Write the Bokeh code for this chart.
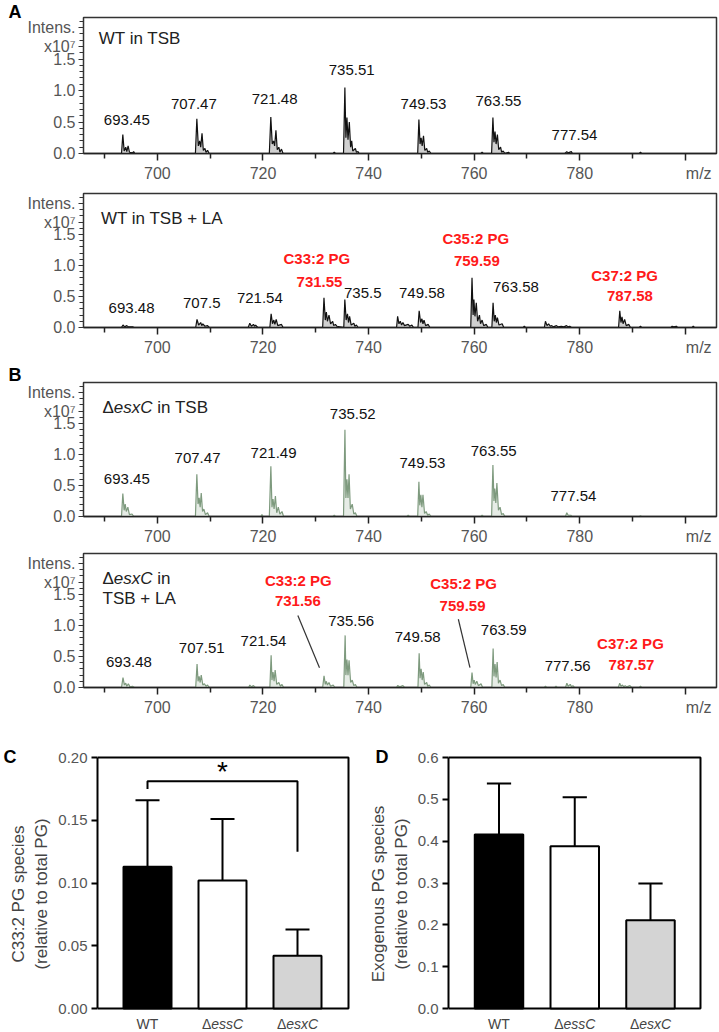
from bokeh.plotting import figure
from bokeh.layouts import column, row
from bokeh.models import Label, FixedTicker, Range1d, NumeralTickFormatter, Title
from bokeh.embed import file_html
from bokeh.resources import INLINE

FONT = "Liberation Sans"

# ---------------- Spectra (intensity in units of 1e7) ----------------
MZ_MIN, MZ_MAX = 686.0, 805.9
I_MAX = 2.16

trace_wt_tsb = [
    (686.0, 0), (693.2, 0), (693.45, 0.30), (693.7, 0.04), (694.0, 0.10), (694.2, 0.03), (694.45, 0.12), (694.7, 0.02),
    (695.3, 0.01), (695.5, 0.03), (695.7, 0),
    (707.2, 0), (707.47, 0.55), (707.75, 0.12), (708.0, 0.20), (708.2, 0.10), (708.45, 0.32), (708.7, 0.05), (709.0, 0.08),
    (709.2, 0.02), (709.5, 0.05), (709.8, 0),
    (721.2, 0), (721.48, 0.58), (721.75, 0.15), (722.0, 0.20), (722.2, 0.12), (722.45, 0.37), (722.7, 0.06), (723.0, 0.10),
    (723.2, 0.02), (723.5, 0.07), (723.8, 0),
    (733.3, 0), (733.5, 0.02), (733.7, 0),
    (735.25, 0), (735.51, 1.05), (735.7, 0.25), (735.9, 0.57), (736.1, 0.22), (736.35, 0.50), (736.6, 0.10), (736.8, 0.20),
    (737.0, 0.04), (737.5, 0.08), (737.7, 0.02), (738.0, 0.03), (738.2, 0),
    (749.3, 0), (749.53, 0.54), (749.75, 0.15), (749.95, 0.25), (750.15, 0.12), (750.4, 0.28), (750.65, 0.05), (751.0, 0.08),
    (751.2, 0.02), (751.5, 0.04), (751.8, 0),
    (761.3, 0), (761.5, 0.02), (761.7, 0),
    (763.3, 0), (763.55, 0.57), (763.75, 0.18), (763.95, 0.35), (764.15, 0.15), (764.4, 0.30), (764.65, 0.06), (765.0, 0.10),
    (765.2, 0.02), (765.5, 0.04), (765.8, 0), (766.5, 0.02), (766.7, 0),
    (777.2, 0), (777.54, 0.03), (777.8, 0.01), (778.4, 0.03), (778.6, 0),
    (791.3, 0), (791.5, 0.02), (791.7, 0), (805.9, 0),
]

trace_wt_la = [
    (686.0, 0), (693.2, 0), (693.48, 0.04), (693.8, 0.01), (694.2, 0.03), (694.5, 0.01), (695.3, 0.01), (695.6, 0),
    (707.25, 0), (707.5, 0.13), (707.8, 0.04), (708.2, 0.08), (708.4, 0.03), (708.6, 0.06), (709.0, 0.02), (709.5, 0.03), (709.8, 0),
    (717.2, 0), (717.5, 0.07), (717.8, 0.02), (718.2, 0.05), (718.4, 0.02), (718.6, 0.04), (719.0, 0),
    (721.3, 0), (721.54, 0.22), (721.8, 0.06), (722.05, 0.12), (722.25, 0.05), (722.5, 0.13), (722.8, 0.03), (723.5, 0.05), (723.8, 0),
    (731.3, 0), (731.55, 0.48), (731.8, 0.12), (732.0, 0.25), (732.2, 0.10), (732.5, 0.20), (732.8, 0.06), (733.2, 0.10),
    (733.4, 0.03), (733.7, 0.05), (734.0, 0.02),
    (735.3, 0), (735.5, 0.45), (735.75, 0.12), (736.0, 0.22), (736.2, 0.08), (736.4, 0.18), (736.7, 0.04), (737.2, 0.07),
    (737.4, 0.02), (737.7, 0.04), (738.0, 0),
    (745.3, 0), (745.5, 0.18), (745.75, 0.06), (746.0, 0.10), (746.25, 0.04), (746.5, 0.08), (746.8, 0.03), (747.5, 0.05),
    (747.8, 0.02), (748.2, 0.04), (748.5, 0),
    (749.35, 0), (749.58, 0.27), (749.85, 0.08), (750.1, 0.14), (750.3, 0.06), (750.5, 0.12), (750.8, 0.03), (751.3, 0.05), (751.6, 0),
    (759.35, 0), (759.59, 0.80), (759.8, 0.20), (759.95, 0.45), (760.15, 0.18), (760.4, 0.40), (760.65, 0.10), (761.0, 0.20),
    (761.2, 0.06), (761.5, 0.12), (761.8, 0.03), (762.3, 0.05), (762.6, 0),
    (763.35, 0), (763.58, 0.40), (763.8, 0.10), (764.0, 0.20), (764.2, 0.08), (764.4, 0.16), (764.7, 0.04), (765.3, 0.06), (765.6, 0),
    (769.3, 0), (769.5, 0.02), (769.7, 0),
    (773.3, 0), (773.5, 0.10), (773.8, 0.03), (774.1, 0.06), (774.4, 0.02), (774.7, 0.03), (775.0, 0.01), (775.6, 0.03),
    (775.9, 0.01), (776.5, 0.02), (777.0, 0.01), (777.5, 0.03), (777.8, 0.01), (778.1, 0.02), (778.4, 0),
    (787.35, 0), (787.58, 0.27), (787.8, 0.08), (788.0, 0.17), (788.2, 0.06), (788.5, 0.13), (788.8, 0.03), (789.3, 0.05), (789.6, 0),
    (791.3, 0), (791.5, 0.02), (791.7, 0),
    (797.3, 0), (797.5, 0.02), (797.8, 0.01), (798.3, 0.02), (798.5, 0),
    (801.3, 0), (801.5, 0.02), (801.7, 0), (805.9, 0),
]

trace_esxc_tsb = [
    (686.0, 0), (693.2, 0), (693.45, 0.37), (693.7, 0.10), (693.9, 0.20), (694.1, 0.08), (694.4, 0.15), (694.7, 0.03), (695.2, 0.04), (695.5, 0),
    (707.2, 0), (707.47, 0.68), (707.7, 0.20), (707.9, 0.30), (708.1, 0.15), (708.3, 0.38), (708.55, 0.08), (708.8, 0.12),
    (709.1, 0.03), (709.5, 0.06), (709.8, 0),
    (719.6, 0), (719.8, 0.03), (720.0, 0),
    (721.2, 0), (721.49, 0.81), (721.7, 0.15), (721.9, 0.28), (722.1, 0.12), (722.35, 0.33), (722.6, 0.06), (722.9, 0.15),
    (723.2, 0.04), (723.6, 0.08), (723.9, 0),
    (733.3, 0), (733.5, 0.02), (733.7, 0),
    (735.25, 0), (735.52, 1.40), (735.7, 0.30), (735.9, 0.60), (736.1, 0.30), (736.3, 0.68), (736.55, 0.12), (736.9, 0.20),
    (737.2, 0.04), (737.5, 0.06), (737.8, 0),
    (747.3, 0), (747.5, 0.02), (747.7, 0),
    (749.3, 0), (749.53, 0.56), (749.7, 0.18), (749.9, 0.35), (750.1, 0.15), (750.3, 0.35), (750.6, 0.05), (750.9, 0.08),
    (751.2, 0.02), (751.5, 0.04), (751.8, 0),
    (761.3, 0), (761.5, 0.02), (761.7, 0),
    (763.3, 0), (763.55, 0.83), (763.75, 0.25), (763.9, 0.45), (764.1, 0.22), (764.3, 0.54), (764.6, 0.10), (764.9, 0.15),
    (765.2, 0.03), (765.5, 0.05), (765.8, 0),
    (777.3, 0), (777.54, 0.06), (777.8, 0.02), (778.3, 0.02), (778.5, 0),
    (791.3, 0), (791.5, 0.01), (791.7, 0), (805.9, 0),
]

trace_esxc_la = [
    (686.0, 0), (693.2, 0), (693.48, 0.16), (693.75, 0.04), (694.0, 0.07), (694.2, 0.02), (694.5, 0.06), (694.8, 0.01), (695.3, 0.02), (695.6, 0),
    (707.25, 0), (707.51, 0.38), (707.7, 0.10), (707.9, 0.18), (708.1, 0.08), (708.3, 0.20), (708.6, 0.04), (708.9, 0.06),
    (709.2, 0.02), (709.5, 0.04), (709.8, 0),
    (717.3, 0), (717.5, 0.04), (717.8, 0.01), (718.2, 0.03), (718.5, 0),
    (721.3, 0), (721.54, 0.52), (721.7, 0.12), (721.9, 0.25), (722.1, 0.10), (722.3, 0.28), (722.6, 0.05), (723.0, 0.08),
    (723.3, 0.02), (723.6, 0.05), (723.9, 0),
    (731.3, 0), (731.56, 0.19), (731.8, 0.05), (732.0, 0.10), (732.2, 0.04), (732.5, 0.08), (732.8, 0.02), (733.3, 0.04), (733.6, 0),
    (735.3, 0), (735.56, 0.84), (735.7, 0.20), (735.9, 0.45), (736.1, 0.20), (736.3, 0.44), (736.6, 0.08), (736.9, 0.12),
    (737.2, 0.03), (737.5, 0.05), (737.8, 0),
    (745.3, 0), (745.5, 0.03), (745.9, 0.01), (746.5, 0.03), (746.8, 0),
    (749.35, 0), (749.58, 0.55), (749.75, 0.15), (749.95, 0.30), (750.15, 0.12), (750.35, 0.25), (750.6, 0.05), (751.0, 0.08),
    (751.2, 0.02), (751.5, 0.04), (751.8, 0),
    (759.35, 0), (759.59, 0.24), (759.8, 0.06), (760.0, 0.12), (760.2, 0.05), (760.5, 0.10), (760.8, 0.03), (761.3, 0.06), (761.6, 0),
    (763.35, 0), (763.59, 0.63), (763.75, 0.18), (763.95, 0.38), (764.15, 0.16), (764.35, 0.41), (764.6, 0.07), (764.9, 0.12),
    (765.2, 0.03), (765.5, 0.05), (765.8, 0),
    (773.3, 0), (773.5, 0.02), (773.7, 0), (775.3, 0), (775.5, 0.02), (775.7, 0),
    (777.3, 0), (777.56, 0.07), (777.8, 0.02), (778.2, 0.05), (778.45, 0.01), (778.7, 0.03), (779.0, 0),
    (787.3, 0), (787.57, 0.07), (787.8, 0.02), (788.1, 0.04), (788.35, 0.01), (788.6, 0.03), (788.9, 0.01), (789.5, 0.03), (789.8, 0),
    (791.3, 0), (791.5, 0.02), (791.7, 0), (805.9, 0),
]

# peak annotations (text) and where they are written (m/z, intensity)
p1_labels = ["693.45", "707.47", "721.48", "735.51", "749.53", "763.55", "777.54"]
p1_lab_x = [694.2, 706.9, 722.2, 736.8, 750.4, 764.6, 779.0]
p1_lab_y = [0.54, 0.78, 0.87, 1.32, 0.78, 0.83, 0.29]

p2_labels = ["693.48", "707.5", "721.54", "735.5", "749.58", "763.58"]
p2_lab_x = [695.1, 708.4, 719.4, 738.9, 750.1, 767.9]
p2_lab_y = [0.32, 0.40, 0.47, 0.55, 0.56, 0.65]
p2_species = ["C33:2 PG", "C35:2 PG", "C37:2 PG"]
p2_species_x = [730.2, 760.3, 788.5]
p2_species_y = [1.11, 1.44, 0.84]
p2_species_mz = ["731.55", "759.59", "787.58"]
p2_species_mz_x = [730.7, 760.5, 789.5]
p2_species_mz_y = [0.74, 1.08, 0.50]

p3_labels = ["693.45", "707.47", "721.49", "735.52", "749.53", "763.55", "777.54"]
p3_lab_x = [694.2, 707.6, 722.0, 737.0, 750.2, 763.7, 778.8]
p3_lab_y = [0.60, 0.95, 1.03, 1.65, 0.86, 1.05, 0.33]

p4_labels = ["693.48", "707.51", "721.54", "735.56", "749.58", "763.59", "777.56"]
p4_lab_x = [694.6, 708.4, 720.1, 736.7, 749.3, 765.6, 777.7]
p4_lab_y = [0.41, 0.63, 0.75, 1.08, 0.81, 0.92, 0.35]
p4_species = ["C33:2 PG", "C35:2 PG", "C37:2 PG"]
p4_species_x = [726.7, 758.0, 789.6]
p4_species_y = [1.73, 1.67, 0.71]
p4_species_mz = ["731.56", "759.59", "787.57"]
p4_species_mz_x = [726.6, 757.8, 789.8]
p4_species_mz_y = [1.40, 1.32, 0.37]
p4_leader_x0 = [726.6, 757.0]
p4_leader_y0 = [1.16, 1.10]
p4_leader_x1 = [730.7, 759.2]
p4_leader_y1 = [0.32, 0.32]

# ---------------- Bar charts ----------------
groups = ["WT", "essC", "esxC"]
group_pos = [1, 2, 3]
bar_colors = ["black", "white", "#d4d4d4"]
c33_mean = [0.113, 0.102, 0.042]
c33_err = [0.053, 0.049, 0.021]
exo_mean = [0.416, 0.388, 0.211]
exo_err = [0.122, 0.117, 0.088]

RED = "#ff1a1a"
GREEN_LINE = "#7e9a7e"
NBSP = "\u00a0"


def add_label(p, x, y, text, size=15, color="#111111", style="normal", align="center",
              baseline="middle", xo=0, yo=0):
    p.add_layout(Label(x=x, y=y, text=text, x_offset=xo, y_offset=yo, text_font=FONT,
                       text_font_size=f"{size}px", text_color=color, text_font_style=style,
                       text_align=align, text_baseline=baseline))


def panel_letter(p, letter, offset, standoff):
    p.add_layout(Title(text=letter, align="left", offset=offset, standoff=standoff, text_font=FONT,
                       text_font_size="18px", text_font_style="bold", text_color="black"), "above")


def spectrum(trace, line_color, fill_color, height, top, bottom):
    mz = [t[0] for t in trace]
    inten = [t[1] for t in trace]
    p = figure(width=718, height=height, x_range=Range1d(MZ_MIN, MZ_MAX), y_range=Range1d(0, I_MAX),
               output_backend="svg", toolbar_location=None,
               min_border_left=83, min_border_right=2, min_border_top=top, min_border_bottom=bottom)
    p.varea(x=mz, y1=0, y2=inten, fill_color=fill_color)
    p.line(x=mz, y=inten, line_color=line_color, line_width=1.2)
    p.xgrid.visible = False
    p.ygrid.visible = False
    p.outline_line_color = "#333333"
    p.outline_line_width = 1.5
    xa = p.xaxis[0]
    xa.ticker = FixedTicker(ticks=[700, 720, 740, 760, 780, 800], minor_ticks=[690, 710, 730, 750, 770, 790])
    xa.major_label_overrides = {800: NBSP * 6 + "m/z"}
    xa.major_tick_out = 7
    xa.major_tick_in = 0
    xa.minor_tick_out = 5
    xa.minor_tick_in = 0
    xa.axis_line_width = 1.5
    xa.axis_line_color = "#222222"
    xa.major_tick_line_color = "#222222"
    xa.minor_tick_line_color = "#222222"
    xa.major_tick_line_width = 1.5
    xa.minor_tick_line_width = 1.5
    xa.major_label_text_font = FONT
    xa.major_label_text_font_size = "16px"
    xa.major_label_text_color = "#555555"
    xa.major_label_standoff = 4
    ya = p.yaxis[0]
    ya.ticker = FixedTicker(ticks=[0, 0.5, 1, 1.5, 1.7, 2],
                            minor_ticks=[0.1, 0.2, 0.3, 0.4, 0.6, 0.7, 0.8, 0.9, 1.1, 1.2, 1.3, 1.4,
                                         1.6, 1.8, 1.9, 2.1])
    ya.major_label_overrides = {0: "0.0", 0.5: "0.5", 1: "1.0", 1.5: "1.5", 1.7: "x10\u2077", 2: "Intens."}
    ya.major_tick_out = 5
    ya.major_tick_in = 0
    ya.minor_tick_out = 4
    ya.minor_tick_in = 0
    ya.axis_line_color = "#333333"
    ya.major_tick_line_color = "#333333"
    ya.minor_tick_line_color = "#333333"
    ya.major_label_text_font = FONT
    ya.major_label_text_font_size = "16px"
    ya.major_label_text_color = "#555555"
    ya.major_label_standoff = 3
    return p


def peak_labels(p, texts, xs, ys, color="#111111", style="normal"):
    for t, x, y in zip(texts, xs, ys):
        add_label(p, x, y, t, size=15, color=color, style=style)


def delta_title(p, x, y, italic_part, rest, size=17):
    w_delta = 0.668 * size
    w_it = {"e": 0.556, "s": 0.5, "x": 0.5, "C": 0.722}
    w2 = sum(w_it[c] for c in italic_part) * size
    add_label(p, x, y, "\u0394", size=size, color="#222222", align="left")
    add_label(p, x, y, italic_part, size=size, color="#222222", style="italic", align="left", xo=w_delta)
    if rest:
        add_label(p, x, y, rest, size=size, color="#222222", align="left", xo=w_delta + w2 + 0.278 * size)


# Panel A, top
p1 = spectrum(trace_wt_tsb, "#111111", "#d0d0d0", 184, 17, 31)
peak_labels(p1, p1_labels, p1_lab_x, p1_lab_y)
add_label(p1, 688.9, 1.83, "WT in TSB", size=17, color="#222222", align="left")
panel_letter(p1, "A", -75, -8)

# Panel A, bottom
p2 = spectrum(trace_wt_la, "#111111", "#d0d0d0", 174, 9, 30)
peak_labels(p2, p2_labels, p2_lab_x, p2_lab_y)
peak_labels(p2, p2_species, p2_species_x, p2_species_y, color=RED, style="bold")
peak_labels(p2, p2_species_mz, p2_species_mz_x, p2_species_mz_y, color=RED, style="bold")
add_label(p2, 689.3, 1.76, "WT in TSB +  LA", size=17, color="#222222", align="left")

# Panel B, top
p3 = spectrum(trace_esxc_tsb, GREEN_LINE, "#e6ece6", 189, 24, 30)
peak_labels(p3, p3_labels, p3_lab_x, p3_lab_y)
delta_title(p3, 689.6, 1.75, "esxC", "in TSB")
panel_letter(p3, "B", -75, -4)

# Panel B, bottom
p4 = spectrum(trace_esxc_la, GREEN_LINE, "#e6ece6", 171, 6, 30)
peak_labels(p4, p4_labels, p4_lab_x, p4_lab_y)
peak_labels(p4, p4_species, p4_species_x, p4_species_y, color=RED, style="bold")
peak_labels(p4, p4_species_mz, p4_species_mz_x, p4_species_mz_y, color=RED, style="bold")
p4.segment(x0=p4_leader_x0, y0=p4_leader_y0, x1=p4_leader_x1, y1=p4_leader_y1, line_color="#333333", line_width=1.2)
delta_title(p4, 689.6, 1.75, "esxC", "in")
add_label(p4, 689.6, 1.44, "TSB + LA", size=17, color="#222222", align="left")

# ---------------- bar panels ----------------
BOX_PX = 251          # pixel height between 0 and the top of the value axis
BELOW_PX = 24         # room under the box for the group names
ABOVE_PX = 2


def bar_panel(means, errs, y_end, ticks, fmt, ylabel, width, left, right, x_start, x_box, x_end):
    per_px = y_end / BOX_PX
    p = figure(width=width, height=314, x_range=Range1d(x_start, x_end),
               y_range=Range1d(-BELOW_PX * per_px, y_end + ABOVE_PX * per_px),
               output_backend="svg", toolbar_location=None,
               min_border_left=left, min_border_right=right, min_border_top=37, min_border_bottom=0)
    p.xgrid.visible = False
    p.ygrid.visible = False
    p.outline_line_color = None
    p.xaxis.visible = False
    # box (top, right, bottom) around the value region
    p.multi_line(xs=[[x_start, x_box, x_box, x_start]], ys=[[y_end, y_end, 0, 0]],
                 line_color="black", line_width=2)
    tops = [m + e for m, e in zip(means, errs)]
    p.segment(x0=group_pos, y0=means, x1=group_pos, y1=tops, line_color="black", line_width=2)
    p.segment(x0=[g - 0.16 for g in group_pos], y0=tops, x1=[g + 0.16 for g in group_pos], y1=tops,
              line_color="black", line_width=2)
    p.vbar(x=group_pos, top=means, bottom=0, width=0.64, fill_color=bar_colors,
           line_color="black", line_width=2)
    ya = p.yaxis[0]
    ya.bounds = (0, y_end)
    ya.ticker = FixedTicker(ticks=ticks)
    ya.formatter = NumeralTickFormatter(format=fmt)
    ya.axis_line_width = 2
    ya.axis_line_color = "black"
    ya.major_tick_line_width = 2
    ya.major_tick_line_color = "black"
    ya.major_tick_out = 6
    ya.major_tick_in = 0
    ya.minor_tick_out = 0
    ya.minor_tick_in = 0
    ya.major_label_text_font = FONT
    ya.major_label_text_font_size = "15px"
    ya.major_label_text_color = "#555555"
    ya.major_label_standoff = 4
    ya.axis_label = ylabel
    ya.axis_label_text_font = FONT
    ya.axis_label_text_font_size = "17px"
    ya.axis_label_text_font_style = "normal"
    ya.axis_label_text_color = "#444444"
    ya.axis_label_standoff = 4
    # group names under the bars
    size = 14
    add_label(p, group_pos[0], 0, groups[0], size=size, color="#444444", baseline="top", yo=-7)
    for g, name in zip(group_pos[1:], groups[1:]):
        w_d = 0.668 * size
        w_i = {"e": 0.556, "s": 0.5, "x": 0.5, "C": 0.722}
        w2 = sum(w_i[c] for c in name) * size
        start = -(w_d + w2) / 2
        add_label(p, g, 0, "\u0394", size=size, color="#444444", align="left", baseline="top", xo=start, yo=-7)
        add_label(p, g, 0, name, size=size, color="#444444", style="italic", align="left", baseline="top",
                  xo=start + w_d, yo=-7)
    return p


pc = bar_panel(c33_mean, c33_err, 0.20, [0, 0.05, 0.10, 0.15, 0.20], "0.00",
               "C33:2 PG species\n(relative to total PG)", 360, 97, 10, 0.3333, 3.68, 3.7067)
pc.line(x=[1, 1, 3, 3], y=[0.175, 0.181, 0.181, 0.125], line_color="black", line_width=2)
add_label(pc, 2, 0.181, "*", size=28, color="black", baseline="alphabetic", yo=10)
panel_letter(pc, "C", -94, -22)

pd = bar_panel(exo_mean, exo_err, 0.6, [0, 0.1, 0.2, 0.3, 0.4, 0.5, 0.6], "0.0",
               "Exogenous PG species\n(relative to total PG)", 358, 88, 16, 0.3333, 3.66, 3.6865)
panel_letter(pd, "D", -73, -22)

layout = column(p1, p2, p3, p4, row(pc, pd))

with open("out.html", "w") as f:
    f.write(file_html(layout, INLINE))
